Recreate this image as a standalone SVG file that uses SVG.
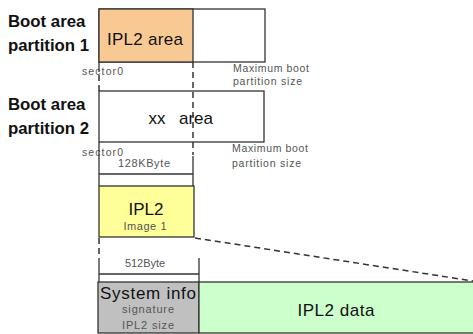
<svg xmlns="http://www.w3.org/2000/svg" width="473" height="334" viewBox="0 0 473 334">
<style>
.lbl{font-family:"Liberation Sans",Arial,sans-serif;font-weight:bold;font-size:16.8px;fill:#111}
.big{font-family:"Liberation Sans",Arial,sans-serif;font-size:17px;fill:#111;text-anchor:middle}
.sm{font-family:"Liberation Sans",Arial,sans-serif;font-size:10.5px;fill:#555}
.smc{font-family:"Liberation Sans",Arial,sans-serif;font-size:11px;fill:#555;text-anchor:middle}
.box{stroke:#333;stroke-width:1.3}
.ln{stroke:#333;stroke-width:1.3;fill:none}
.dash{stroke:#333;stroke-width:1.5;fill:none;stroke-dasharray:6,4}
</style>
<g id="labels">
<text class="lbl" x="8" y="27">Boot area</text>
<text class="lbl" x="8" y="51">partition 1</text>
<text class="lbl" x="8" y="110">Boot area</text>
<text class="lbl" x="8" y="134">partition 2</text>
</g>
<g id="partition1">
<rect class="box" x="99" y="9" width="166" height="53" fill="#fff"/>
<rect class="box" x="99" y="9" width="94" height="53" fill="#f9c994"/>
<text class="big" x="145" y="45" textLength="76">IPL2 area</text>
<text class="sm" x="82" y="75" textLength="41">sector0</text>
<text class="sm" x="233" y="72" textLength="76">Maximum boot</text>
<text class="sm" x="233" y="85" textLength="69">partition size</text>
</g>
<g id="partition2">
<rect class="box" x="99" y="91" width="165" height="51" fill="#fff"/>
<text class="big" x="157" y="124">xx</text>
<text class="big" x="196" y="124">area</text>
<text class="sm" x="82" y="156" textLength="41">sector0</text>
<text class="sm" x="232" y="152" textLength="76">Maximum boot</text>
<text class="sm" x="232" y="167" textLength="69">partition size</text>
</g>
<g id="size128">
<text class="smc" x="144" y="167" textLength="52">128KByte</text>
</g>
<g id="ipl2image">
<rect class="box" x="99" y="186" width="95" height="51" fill="#ffff99"/>
<text class="big" x="146" y="215" font-size="18">IPL2</text>
<text class="smc" x="145" y="230" textLength="43">Image 1</text>
</g>
<g id="size512">
<text class="smc" x="145" y="267" font-size="9.5" textLength="40">512Byte</text>
</g>
<g id="sysinfo">
<rect class="box" x="98" y="282" width="101" height="51" fill="#c0c0c0"/>
<text class="big" x="148" y="299" textLength="96">System info</text>
<text class="smc" x="148" y="313" textLength="52">signature</text>
<text class="smc" x="148" y="329" textLength="52">IPL2 size</text>
</g>
<g id="ipl2data">
<rect class="box" x="199" y="282" width="276" height="51" fill="#ccffcc"/>
<text class="big" x="336" y="316" textLength="77">IPL2 data</text>
</g>
<g id="connectors">
<line class="ln" x1="99" y1="62" x2="99" y2="72"/>
<line class="dash" x1="99" y1="75" x2="99" y2="91"/>
<line class="dash" x1="193" y1="62" x2="193" y2="155"/>
<line class="ln" x1="99" y1="142" x2="99" y2="186"/>
<line class="ln" x1="193" y1="156" x2="193" y2="186"/>
<line class="ln" x1="99" y1="174" x2="193" y2="174"/>
<line class="dash" x1="99" y1="238" x2="99" y2="257"/>
<line class="ln" x1="99" y1="258" x2="99" y2="282"/>
<line class="ln" x1="199" y1="258" x2="199" y2="282"/>
<line class="ln" x1="99" y1="274" x2="199" y2="274"/>
<line class="dash" x1="195" y1="238" x2="473" y2="281"/>
</g>
</svg>
